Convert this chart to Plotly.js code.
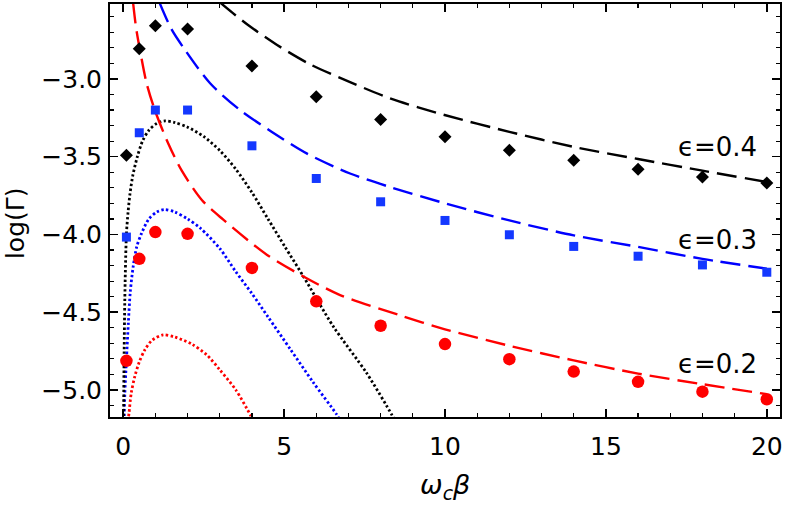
<!DOCTYPE html>
<html>
<head>
<meta charset="utf-8">
<script src="https://cdn.plot.ly/plotly-3.0.1.min.js"></script>
<style>html,body{margin:0;padding:0;background:#fff;}#chart{width:785px;height:508px;}</style>
</head>
<body>
<div id="chart"></div>
<script>
// Simulation points (x = omega_c * beta)
const xPts = [0.1, 0.5, 1, 2, 4, 6, 8, 10, 12, 14, 16, 18, 20];
const pts04 = [-3.49, -2.806, -2.658, -2.679, -2.916, -3.114, -3.26, -3.372, -3.458, -3.523, -3.58, -3.63, -3.669];
const pts03 = [-4.017, -3.346, -3.2, -3.2, -3.43, -3.64, -3.79, -3.91, -4.002, -4.077, -4.14, -4.196, -4.243];
const pts02 = [-4.813, -4.157, -3.985, -3.996, -4.215, -4.43, -4.587, -4.705, -4.802, -4.882, -4.948, -5.011, -5.06];

// Long-dashed curves
const dash04X = [3.02, 3.4, 3.89, 4.77, 5.8, 7.05, 8.29, 9.95, 12, 14, 16, 18, 20];
const dash04Y = [-2.51, -2.575, -2.655, -2.78, -2.905, -3.02, -3.125, -3.23, -3.34, -3.437, -3.515, -3.59, -3.663];
const dash03X = [1.14, 1.5, 1.92, 2.7, 3.63, 4.61, 5.7, 7.05, 8.29, 10, 12, 14, 16, 18, 20];
const dash03Y = [-2.515, -2.68, -2.813, -3.028, -3.2, -3.339, -3.479, -3.608, -3.695, -3.8, -3.91, -4.006, -4.08, -4.157, -4.22];
const dash02X = [0.31, 0.4, 0.52, 0.73, 1.0, 1.4, 1.82, 2.45, 3.11, 4.46, 5.6, 6.74, 8.6, 10, 12, 14, 16, 18, 20];
const dash02Y = [-2.515, -2.67, -2.813, -3.03, -3.21, -3.415, -3.59, -3.78, -3.905, -4.13, -4.27, -4.39, -4.52, -4.61, -4.716, -4.81, -4.895, -4.963, -5.027];

// Dotted curves
const dot04X = [0.01, 0.03, 0.05, 0.1, 0.15, 0.21, 0.3, 0.44, 0.6, 0.8, 1.05, 1.3, 1.6, 2.0, 2.5, 3.0, 3.5, 4.0, 4.5, 5.03, 5.6, 6.53, 7.57, 8.34, 8.45];
const dot04Y = [-5.2, -4.75, -4.42, -4.0, -3.86, -3.74, -3.62, -3.5, -3.4, -3.33, -3.285, -3.27, -3.28, -3.31, -3.37, -3.46, -3.58, -3.73, -3.9, -4.08, -4.27, -4.592, -4.893, -5.157, -5.2];
const dot03X = [0.03, 0.05, 0.1, 0.16, 0.22, 0.31, 0.42, 0.57, 0.8, 1.05, 1.28, 1.6, 2.0, 2.4, 3.0, 3.5, 4.0, 4.5, 5.2, 5.9, 6.63, 6.75];
const dot03Y = [-5.2, -5.03, -4.81, -4.57, -4.37, -4.207, -4.08, -3.993, -3.9, -3.855, -3.84, -3.855, -3.9, -3.96, -4.09, -4.24, -4.38, -4.53, -4.74, -4.95, -5.157, -5.2];
const dot02X = [0.15, 0.18, 0.25, 0.36, 0.5, 0.67, 0.9, 1.24, 1.6, 2.13, 2.6, 3.0, 3.5, 3.95, 4.05];
const dot02Y = [-5.2, -5.15, -5.02, -4.914, -4.82, -4.743, -4.68, -4.646, -4.66, -4.705, -4.775, -4.87, -5.0, -5.16, -5.2];

const labelText = ['\u03f5=0.4', '\u03f5=0.3', '\u03f5=0.2'];
const labelX = [18.47, 18.47, 18.47];
const labelY = [-3.44, -4.035, -4.83];

const BLACK = '#000000', BLUE = '#0000ff', RED = '#ff0000';
const FONT = 'DejaVu Sans, Arial, sans-serif';

function curve(x, y, color, dash) {
  const dotted = dash === 'dot';
  return {x: x, y: y, mode: 'lines', type: 'scatter', hoverinfo: 'skip',
    line: {color: color, width: dotted ? 2.8 : 2.4, dash: dotted ? '2.4px,2.4px' : '20px,8px', shape: 'spline', smoothing: 0.8}};
}
function markers(x, y, color, symbol, size) {
  return {x: x, y: y, mode: 'markers', type: 'scatter', hoverinfo: 'skip',
    marker: {color: color, symbol: symbol, size: size, line: {width: 0}}};
}

const data = [
  curve(dot02X, dot02Y, RED, 'dot'),
  curve(dot03X, dot03Y, BLUE, 'dot'),
  curve(dot04X, dot04Y, BLACK, 'dot'),
  curve(dash02X, dash02Y, RED, 'dash'),
  curve(dash03X, dash03Y, BLUE, 'dash'),
  curve(dash04X, dash04Y, BLACK, 'dash'),
  markers(xPts, pts02, RED, 'circle', 12.5),
  markers(xPts, pts03, '#1438ff', 'square', 9),
  markers(xPts, pts04, BLACK, 'diamond', 10)
];

const annotations = labelText.map((t, i) => ({
  x: labelX[i], y: labelY[i], xref: 'x', yref: 'y', text: t, showarrow: false,
  xanchor: 'center', yanchor: 'middle', font: {family: FONT, size: 26, color: '#000'}
}));
annotations.push({x: 0.5, y: -0.168, xref: 'paper', yref: 'paper', showarrow: false,
  text: '<i>\u03c9</i><sub><i>c</i></sub><i>\u03b2</i>', xanchor: 'center', yanchor: 'middle',
  font: {family: FONT, size: 27, color: '#000'}});
annotations.push({x: -0.14, y: 0.47, xref: 'paper', yref: 'paper', showarrow: false,
  text: 'log(\u0393)', textangle: -90, xanchor: 'center', yanchor: 'middle',
  font: {family: FONT, size: 25, color: '#000'}});

const layout = {
  width: 785, height: 508,
  margin: {l: 110, r: 5, t: 4, b: 91},
  paper_bgcolor: '#fff', plot_bgcolor: '#fff',
  showlegend: false,
  font: {family: FONT, size: 25, color: '#000'},
  xaxis: {
    range: [-0.41, 20.41], tick0: 0, dtick: 5, ticks: 'inside', ticklen: 8, tickwidth: 1.5,
    tickcolor: '#000', showline: true, linewidth: 2, linecolor: '#000', mirror: 'ticks',
    showgrid: false, zeroline: false, ticklabelstandoff: 6,
    tickfont: {family: FONT, size: 25, color: '#000'},
    minor: {dtick: 1, tick0: 0, ticks: 'inside', ticklen: 4, tickwidth: 1.2, tickcolor: '#000', showgrid: false}
  },
  yaxis: {
    range: [-5.174, -2.518], tick0: -5, dtick: 0.5, tickformat: '.1f', ticks: 'inside', ticklen: 8, tickwidth: 1.5,
    tickcolor: '#000', showline: true, linewidth: 2, linecolor: '#000', mirror: 'ticks',
    showgrid: false, zeroline: false, ticklabelstandoff: 1,
    tickfont: {family: FONT, size: 25, color: '#000'},
    minor: {dtick: 0.1, tick0: -5, ticks: 'inside', ticklen: 4, tickwidth: 1.2, tickcolor: '#000', showgrid: false}
  },
  annotations: annotations
};

Plotly.newPlot('chart', data, layout, {staticPlot: true, displayModeBar: false});
</script>
</body>
</html>
